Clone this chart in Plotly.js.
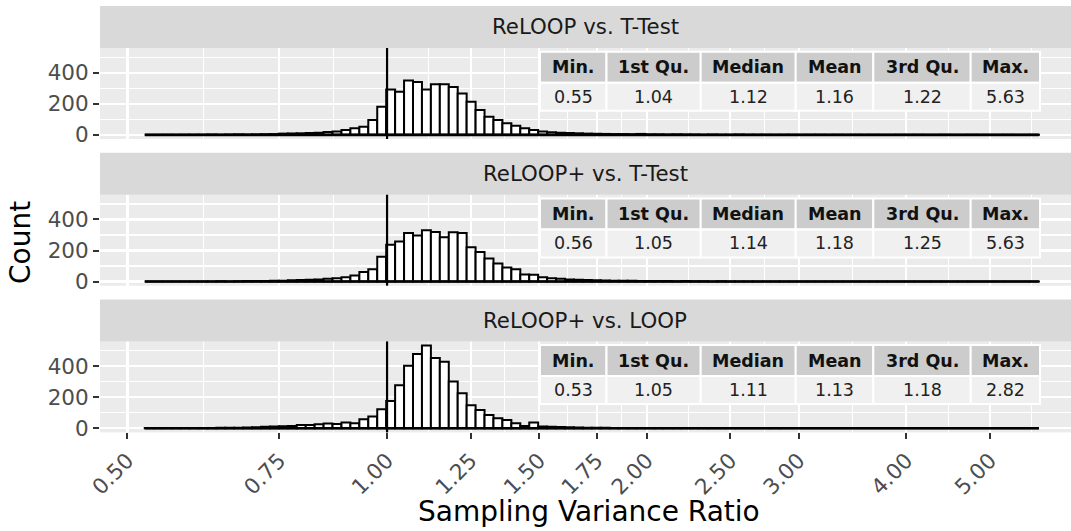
<!DOCTYPE html>
<html><head><meta charset="utf-8">
<script src="https://cdn.plot.ly/plotly-3.0.1.min.js"></script>
<style>html,body{margin:0;padding:0;background:#fff}#chart{width:1071px;height:531px}</style>
</head><body><div id="chart"></div>
<script>
// ---------------- data ----------------
const panelTitles = ["ReLOOP vs. T-Test", "ReLOOP+ vs. T-Test", "ReLOOP+ vs. LOOP"];
// histogram: 100 equal bins on log scale, first bin centred at 0.53, last at 5.63
const binFirstCenter = 0.53;
const binLastCenter = 5.63;
const binCount = 100;
const countsReloopTT = [0,0,1,0,1,1,1,2,1,2,3,2,3,4,5,8,9,10,12,14,18,21,32,43,53,96,181,292,277,351,341,292,326,326,309,266,213,160,117,96,75,58,43,32,21,17,14,12,10,8,7,6,5,5,4,6,3,3,2,3,2,2,1,2,1,1,2,1,1,1,0,1,1,0,1,1,0,1,0,1,0,1,0,0,1,0,1,0,0,1,0,0,1,0,0,0,1,0,0,1];
const countsReloopPlusTT = [0,0,1,0,1,0,1,1,2,1,2,3,3,4,5,6,8,10,12,14,18,22,28,39,61,79,160,237,258,313,296,331,320,285,318,313,221,190,149,116,90,79,46,44,28,22,18,14,12,10,8,7,6,5,5,4,4,3,3,2,3,2,2,1,2,1,1,1,1,0,1,1,0,1,0,1,0,1,0,0,1,0,1,0,0,1,0,0,1,0,0,1,0,0,0,1,0,0,0,1];
const countsReloopPlusLoop = [1,0,1,1,1,2,2,2,3,3,4,5,6,9,11,13,15,21,21,26,30,28,37,32,58,75,123,176,277,402,479,533,452,428,301,226,148,118,86,65,54,32,15,37,11,10,8,6,5,4,3,3,2,2,2,1,1,1,1,0,1,0,1,0,0,1,0,0,0,0,1,0,0,0,0,0,0,0,0,0,0,0,0,0,0,0,0,0,0,0,0,0,0,0,0,0,0,0,0,0];
const panelCounts = [countsReloopTT, countsReloopPlusTT, countsReloopPlusLoop];
const refLine = [1];
const xTickValues = [0.5, 0.75, 1.0, 1.25, 1.5, 1.75, 2.0, 2.5, 3.0, 4.0, 5.0];
const xTickLabels = ["0.50","0.75","1.00","1.25","1.50","1.75","2.00","2.50","3.00","4.00","5.00"];
const yTickValues = [0, 200, 400];
const yMinorValues = [100, 300, 500];
const tableHeaders = ["Min.", "1st Qu.", "Median", "Mean", "3rd Qu.", "Max."];
const statsReloopTT = ["0.55", "1.04", "1.12", "1.16", "1.22", "5.63"];
const statsReloopPlusTT = ["0.56", "1.05", "1.14", "1.18", "1.25", "5.63"];
const statsReloopPlusLoop = ["0.53", "1.05", "1.11", "1.13", "1.18", "2.82"];
const panelStats = [statsReloopTT, statsReloopPlusTT, statsReloopPlusLoop];

// ---------------- layout geometry (pixels) ----------------
const W = 1071, H = 531;
const FONT = "DejaVu Sans, Verdana, sans-serif";
const px = x => x / W;
const py = y => 1 - y / H;
const panelLeft = 100, panelRight = 1071;
const stripTops = [6, 152.7, 299.4];
const stripH = 42, panelH = 91;
const xRangeLog10 = [-0.3328, 0.7929];
const tableLeft = 540, tableTopOffset = 3.7, headerH = 31, bodyH = 28;
const colWidths = [66.5, 94.2, 95, 77.6, 97.4, 69.3];
const TICK_FS = 21.5, STRIP_FS = 21.3, TITLE_FS = 28, TABLE_FS = 17.5;

// bins in log10 space
const l0 = Math.log10(binFirstCenter), l1 = Math.log10(binLastCenter);
const step = (l1 - l0) / (binCount - 1);
const binCenters = Array.from({length: binCount}, (_, i) => l0 + i * step);

const maxCount = Math.max(...panelCounts.flat());
const yRange = [-0.05 * maxCount, 1.05 * maxCount];

const xMajorLog = xTickValues.map(v => Math.log10(v));
const xMinorLog = [];
{
  const m = xMajorLog;
  const ext = [m[0] - (m[1] - m[0]), ...m, m[m.length-1] + (m[m.length-1] - m[m.length-2])];
  for (let i = 0; i < ext.length - 1; i++) xMinorLog.push((ext[i] + ext[i+1]) / 2);
}

const traces = [];
const layout = {
  width: W, height: H,
  margin: {l: 0, r: 0, t: 0, b: 0},
  paper_bgcolor: "#ffffff",
  plot_bgcolor: "#ebebeb",
  showlegend: false,
  bargap: 0,
  font: {family: FONT},
  shapes: [],
  annotations: []
};

for (let k = 0; k < 3; k++) {
  const sfx = k === 0 ? "" : String(k + 1);
  const xa = "x" + sfx, ya = "y" + sfx;
  const pTop = stripTops[k] + stripH, pBot = pTop + panelH;
  const isBottom = k === 2;

  traces.push({
    type: "bar", xaxis: xa, yaxis: ya,
    x: binCenters, y: panelCounts[k], width: step,
    marker: {color: "#ffffff", line: {color: "#000000", width: 2}},
    hoverinfo: "skip"
  });
  // flat outline of empty bins (ggplot draws zero-height bars)
  traces.push({
    type: "scatter", mode: "lines", xaxis: xa, yaxis: ya,
    x: [binCenters[0] - step / 2, binCenters[binCount - 1] + step / 2], y: [0, 0],
    line: {color: "#000000", width: 2.6}, hoverinfo: "skip"
  });

  layout["xaxis" + sfx] = {
    domain: [px(panelLeft), px(panelRight)], anchor: ya,
    range: xRangeLog10, type: "linear",
    tickmode: "array", tickvals: xMajorLog, ticktext: xTickLabels,
    showticklabels: isBottom, ticks: isBottom ? "outside" : "",
    ticklen: 6, tickwidth: 2, tickcolor: "#333333", tickangle: -45,
    tickfont: {family: FONT, size: TICK_FS, color: "#4d4d4d"},
    showgrid: true, gridcolor: "#ffffff", gridwidth: 2.2,
    minor: {tickmode: "array", tickvals: xMinorLog, showgrid: true, gridcolor: "#ffffff", gridwidth: 1.1, ticks: ""},
    zeroline: false, showline: false, fixedrange: true
  };
  layout["yaxis" + sfx] = {
    domain: [py(pBot), py(pTop)], anchor: xa,
    range: yRange, tickmode: "array", tickvals: yTickValues,
    ticks: "outside", ticklen: 6, tickwidth: 2, tickcolor: "#333333",
    tickfont: {family: FONT, size: TICK_FS, color: "#4d4d4d"},
    showgrid: true, gridcolor: "#ffffff", gridwidth: 2.2,
    minor: {tickmode: "array", tickvals: yMinorValues, showgrid: true, gridcolor: "#ffffff", gridwidth: 1.1, ticks: ""},
    zeroline: false, showline: false, fixedrange: true
  };

  // strip
  layout.shapes.push({
    type: "rect", xref: "paper", yref: "paper",
    x0: px(panelLeft), x1: px(panelRight), y0: py(stripTops[k] + stripH), y1: py(stripTops[k]),
    fillcolor: "#d9d9d9", line: {width: 0}
  });
  layout.annotations.push({
    xref: "paper", yref: "paper", x: px((panelLeft + panelRight) / 2), y: py(stripTops[k] + stripH / 2),
    text: panelTitles[k], showarrow: false, xanchor: "center", yanchor: "middle",
    font: {family: FONT, size: STRIP_FS, color: "#1a1a1a"}
  });

  // reference line at 1
  layout.shapes.push({
    type: "line", xref: xa, yref: ya + " domain",
    x0: Math.log10(refLine[0]), x1: Math.log10(refLine[0]), y0: 0, y1: 1,
    line: {color: "#000000", width: 2.2}, layer: "above"
  });

  // summary table
  const tTop = pTop + tableTopOffset;
  let cx = tableLeft;
  for (let c = 0; c < tableHeaders.length; c++) {
    const cw = colWidths[c];
    layout.shapes.push({
      type: "rect", xref: "paper", yref: "paper",
      x0: px(cx), x1: px(cx + cw), y0: py(tTop + headerH), y1: py(tTop),
      fillcolor: "#cccccc", line: {color: "#ffffff", width: 2}, layer: "above"
    });
    layout.shapes.push({
      type: "rect", xref: "paper", yref: "paper",
      x0: px(cx), x1: px(cx + cw), y0: py(tTop + headerH + bodyH), y1: py(tTop + headerH),
      fillcolor: "#f0f0f0", line: {color: "#ffffff", width: 2}, layer: "above"
    });
    layout.annotations.push({
      xref: "paper", yref: "paper", x: px(cx + cw / 2), y: py(tTop + headerH / 2),
      text: "<b>" + tableHeaders[c] + "</b>", showarrow: false, xanchor: "center", yanchor: "middle",
      font: {family: FONT, size: TABLE_FS, color: "#111111"}
    });
    layout.annotations.push({
      xref: "paper", yref: "paper", x: px(cx + cw / 2), y: py(tTop + headerH + bodyH / 2),
      text: panelStats[k][c], showarrow: false, xanchor: "center", yanchor: "middle",
      font: {family: FONT, size: TABLE_FS, color: "#222222"}
    });
    cx += cw;
  }
}

// axis titles
layout.annotations.push({
  xref: "paper", yref: "paper", x: px(20), y: py(243),
  text: "Count", showarrow: false, textangle: -90, xanchor: "center", yanchor: "middle",
  font: {family: FONT, size: TITLE_FS, color: "#000000"}
});
layout.annotations.push({
  xref: "paper", yref: "paper", x: px(589), y: py(511),
  text: "Sampling Variance Ratio", showarrow: false, xanchor: "center", yanchor: "middle",
  font: {family: FONT, size: TITLE_FS, color: "#000000"}
});

Plotly.newPlot("chart", traces, layout, {displayModeBar: false, staticPlot: true});
</script></body></html>
